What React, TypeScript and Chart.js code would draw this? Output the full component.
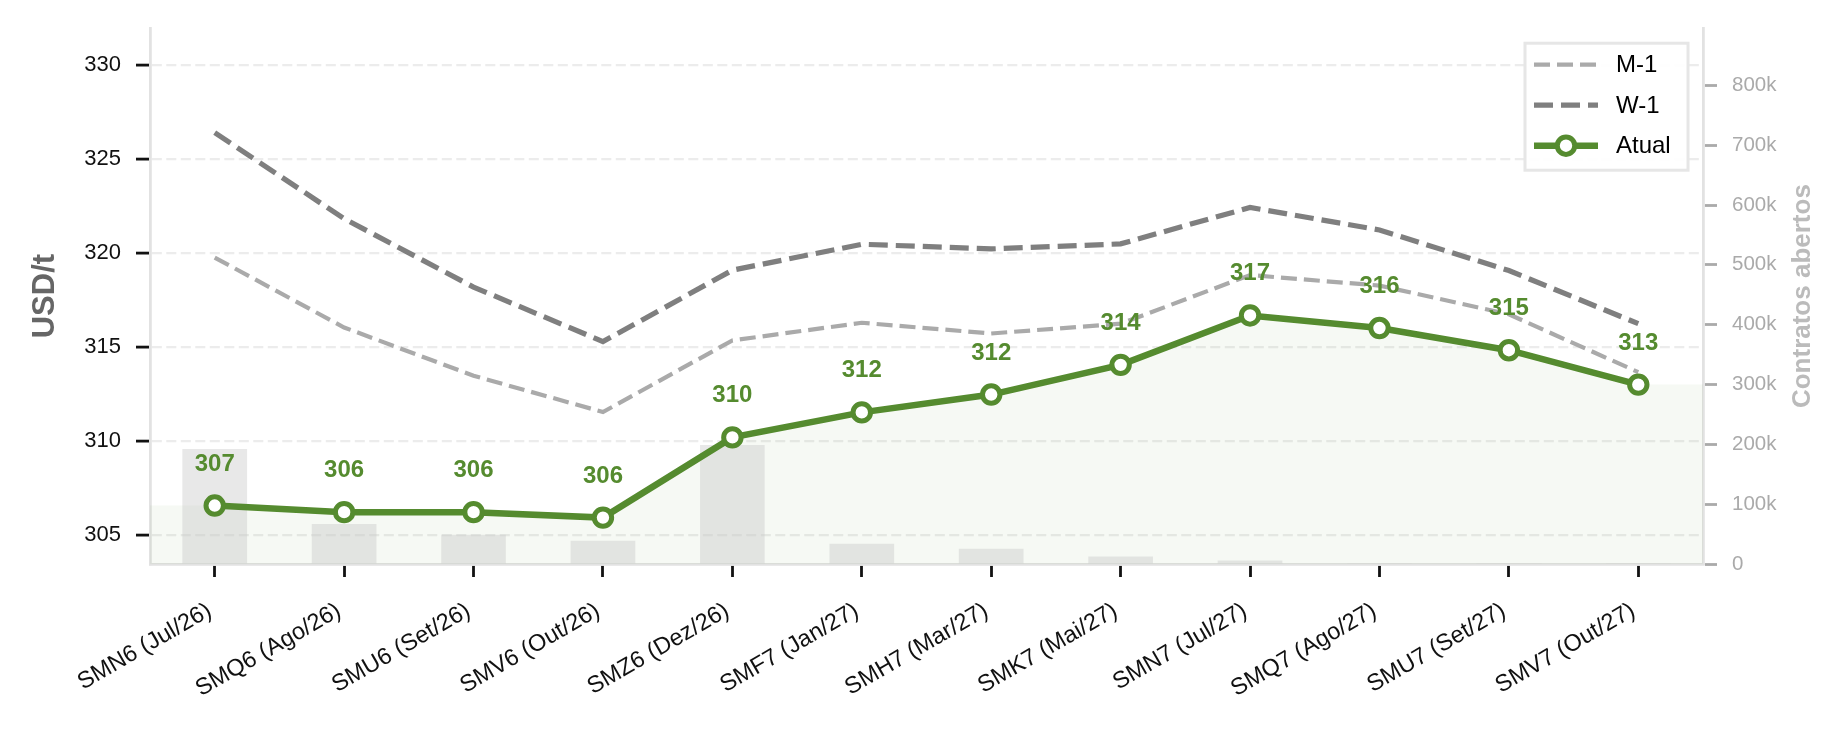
import React, { useEffect, useRef } from 'react';
import { Chart, registerables } from 'chart.js';

Chart.register(...registerables);

const categories = [
  'SMN6 (Jul/26)', 'SMQ6 (Ago/26)', 'SMU6 (Set/26)', 'SMV6 (Out/26)',
  'SMZ6 (Dez/26)', 'SMF7 (Jan/27)', 'SMH7 (Mar/27)', 'SMK7 (Mai/27)',
  'SMN7 (Jul/27)', 'SMQ7 (Ago/27)', 'SMU7 (Set/27)', 'SMV7 (Out/27)',
];
const atual = [306.57, 306.22, 306.22, 305.93, 310.2, 311.53, 312.48, 314.06, 316.69, 316.02, 314.84, 313.01];
const w1 = [326.42, 321.84, 318.2, 315.3, 319.1, 320.48, 320.23, 320.5, 322.44, 321.24, 319.08, 316.25];
const m1 = [319.77, 316.05, 313.48, 311.55, 315.36, 316.3, 315.73, 316.25, 318.84, 318.28, 316.75, 313.67];
const openInterest = [192000, 67000, 49000, 39000, 199000, 34000, 25500, 12700, 6000, 1200, 600, 300];
const priceTicks = [305, 310, 315, 320, 325, 330];
const oiTicks = [0, 100000, 200000, 300000, 400000, 500000, 600000, 700000, 800000];

const FONT = "'Liberation Sans', Arial, Helvetica, sans-serif";
const GREEN = '#558b2f';
const M1_COLOR = '#aaaaaa';
const W1_COLOR = '#7f7f7f';
const SPINE = '#e2e2e2';

const areaFillPlugin = {
  id: 'areaFill',
  beforeDatasetsDraw(chart: any) {
    const idx = chart.data.datasets.findIndex((d: any) => d.label === 'Atual');
    const meta = chart.getDatasetMeta(idx);
    const pts = meta.data;
    if (!pts || !pts.length) return;
    const { left, right, bottom } = chart.chartArea;
    const ctx = chart.ctx;
    ctx.save();
    ctx.beginPath();
    ctx.moveTo(left, bottom);
    ctx.lineTo(left, pts[0].y);
    pts.forEach((p: any) => ctx.lineTo(p.x, p.y));
    ctx.lineTo(right, pts[pts.length - 1].y);
    ctx.lineTo(right, bottom);
    ctx.closePath();
    ctx.fillStyle = 'rgba(85,139,47,0.055)';
    ctx.fill();
    ctx.restore();
  },
};

const dataLabelPlugin = {
  id: 'dataLabels',
  afterDatasetsDraw(chart: any) {
    const idx = chart.data.datasets.findIndex((d: any) => d.label === 'Atual');
    const meta = chart.getDatasetMeta(idx);
    const ds = chart.data.datasets[idx];
    const ctx = chart.ctx;
    ctx.save();
    ctx.font = `bold 24px ${FONT}`;
    ctx.fillStyle = GREEN;
    ctx.textAlign = 'center';
    ctx.textBaseline = 'alphabetic';
    meta.data.forEach((p: any, i: number) => {
      ctx.fillText(String(Math.round(ds.data[i])), p.x, p.y - 35);
    });
    ctx.restore();
  },
};

const extrasPlugin = {
  id: 'extras',
  afterDraw(chart: any) {
    const ctx = chart.ctx;
    const { top, bottom, right } = chart.chartArea;
    const s2 = chart.scales.y2;
    // right axis title
    ctx.save();
    ctx.translate(s2.right - 43, (top + bottom) / 2);
    ctx.rotate(-Math.PI / 2);
    ctx.font = `bold 26px ${FONT}`;
    ctx.fillStyle = '#bbbbbb';
    ctx.textAlign = 'center';
    ctx.textBaseline = 'middle';
    ctx.fillText('Contratos abertos', 0, 0);
    ctx.restore();

    // legend
    const boxW = 163;
    const boxH = 127;
    const x0 = right - 15 - boxW;
    const y0 = top + 15;
    ctx.save();
    ctx.fillStyle = 'rgba(255,255,255,0.92)';
    ctx.fillRect(x0, y0, boxW, boxH);
    ctx.strokeStyle = '#e6e6e6';
    ctx.lineWidth = 3;
    ctx.strokeRect(x0, y0, boxW, boxH);
    const entries = chart.data.datasets
      .filter((d: any) => d.type === 'line')
      .sort((a: any, b: any) => b.order - a.order);
    entries.forEach((d: any, i: number) => {
      const cy = y0 + 21.5 + i * 40.5;
      ctx.save();
      ctx.strokeStyle = d.borderColor;
      ctx.lineWidth = d.borderWidth;
      ctx.setLineDash(d.borderDash || []);
      ctx.lineCap = 'butt';
      ctx.beginPath();
      ctx.moveTo(x0 + 9, cy);
      ctx.lineTo(x0 + 73, cy);
      ctx.stroke();
      ctx.setLineDash([]);
      if (d.pointRadius > 0) {
        ctx.beginPath();
        ctx.arc(x0 + 41, cy, d.pointRadius, 0, Math.PI * 2);
        ctx.fillStyle = d.pointBackgroundColor;
        ctx.fill();
        ctx.lineWidth = d.pointBorderWidth;
        ctx.strokeStyle = d.pointBorderColor;
        ctx.stroke();
      }
      ctx.restore();
      ctx.save();
      ctx.font = `24px ${FONT}`;
      ctx.fillStyle = '#000';
      ctx.textAlign = 'left';
      ctx.textBaseline = 'middle';
      ctx.fillText(d.label, x0 + 91, cy + 1);
      ctx.restore();
    });
    ctx.restore();
  },
};

export default function App() {
  const canvasRef = useRef<HTMLCanvasElement | null>(null);

  useEffect(() => {
    document.body.style.margin = '0';
    const canvas = canvasRef.current;
    if (!canvas) return;
    Chart.defaults.font.family = FONT;
    const chart = new Chart(canvas, {
      type: 'bar',
      data: {
        labels: categories,
        datasets: [
          {
            type: 'bar',
            label: 'Contratos abertos',
            data: openInterest,
            yAxisID: 'y2',
            backgroundColor: 'rgba(200,200,200,0.42)',
            borderWidth: 0,
            barPercentage: 0.5,
            categoryPercentage: 1,
            order: 4,
          } as any,
          {
            type: 'line',
            label: 'M-1',
            data: m1,
            yAxisID: 'y',
            borderColor: M1_COLOR,
            borderWidth: 4.2,
            borderDash: [16, 7],
            pointRadius: 0,
            tension: 0,
            fill: false,
            order: 3,
          } as any,
          {
            type: 'line',
            label: 'W-1',
            data: w1,
            yAxisID: 'y',
            borderColor: W1_COLOR,
            borderWidth: 5.2,
            borderDash: [19, 8],
            pointRadius: 0,
            tension: 0,
            fill: false,
            order: 2,
          } as any,
          {
            type: 'line',
            label: 'Atual',
            data: atual,
            yAxisID: 'y',
            borderColor: GREEN,
            borderWidth: 6.5,
            pointRadius: 8.7,
            pointBorderWidth: 5,
            pointBackgroundColor: '#ffffff',
            pointBorderColor: GREEN,
            tension: 0,
            fill: false,
            order: 1,
          } as any,
        ],
      },
      options: {
        responsive: false,
        animation: false,
        devicePixelRatio: 1,
        layout: { padding: { top: 27, left: 0, right: 0, bottom: 0 } },
        plugins: {
          legend: { display: false },
          tooltip: { enabled: false },
        },
        scales: {
          x: {
            type: 'category',
            offset: true,
            grid: {
              display: true,
              drawOnChartArea: false,
              drawTicks: true,
              offset: false,
              tickLength: 13,
              tickWidth: 2.8,
              tickColor: '#111111',
            },
            border: { display: true, color: SPINE, width: 2.8 },
            ticks: {
              autoSkip: false,
              minRotation: 30,
              maxRotation: 30,
              padding: 20,
              labelOffset: -5,
              color: '#111111',
              font: { size: 23.5, family: FONT },
            },
            afterFit: (s: any) => { s.height = 170; },
          },
          y: {
            type: 'linear',
            position: 'left',
            min: 303.46,
            max: 331.98,
            afterBuildTicks: (s: any) => { s.ticks = priceTicks.map((v) => ({ value: v })); },
            grid: {
              display: true,
              drawOnChartArea: true,
              color: '#ececec',
              lineWidth: 2.2,
              tickLength: 14,
              tickWidth: 2.8,
              tickColor: '#111111',
              tickBorderDash: [],
            },
            border: { display: true, color: SPINE, width: 2.8, dash: [10, 4.5] },
            ticks: {
              padding: 15,
              color: '#111111',
              font: { size: 22, family: FONT },
              callback: (v: any) => String(v),
            },
            title: {
              display: true,
              text: 'USD/t',
              color: '#666666',
              font: { size: 31, weight: 'bold', family: FONT },
              padding: { top: 27, bottom: 0 },
            },
            afterFit: (s: any) => { s.width = 150; },
          },
          y2: {
            type: 'linear',
            position: 'right',
            min: 0,
            max: 895500,
            afterBuildTicks: (s: any) => { s.ticks = oiTicks.map((v) => ({ value: v })); },
            grid: {
              display: true,
              drawOnChartArea: false,
              tickLength: 14,
              tickWidth: 2.8,
              tickColor: '#aaaaaa',
            },
            border: { display: true, color: SPINE, width: 2.8 },
            ticks: {
              padding: 15,
              color: '#aaaaaa',
              font: { size: 20.5, family: FONT },
              callback: (v: any) => (v === 0 ? '0' : `${Math.round(v / 1000)}k`),
            },
            afterFit: (s: any) => { s.width = 143; },
          },
        },
      } as any,
      plugins: [areaFillPlugin, dataLabelPlugin, extrasPlugin],
    });
    return () => chart.destroy();
  }, []);

  return (
    <div style={{ width: 1846, height: 734, background: '#ffffff' }}>
      <canvas ref={canvasRef} width={1846} height={734} style={{ display: 'block' }} />
    </div>
  );
}
